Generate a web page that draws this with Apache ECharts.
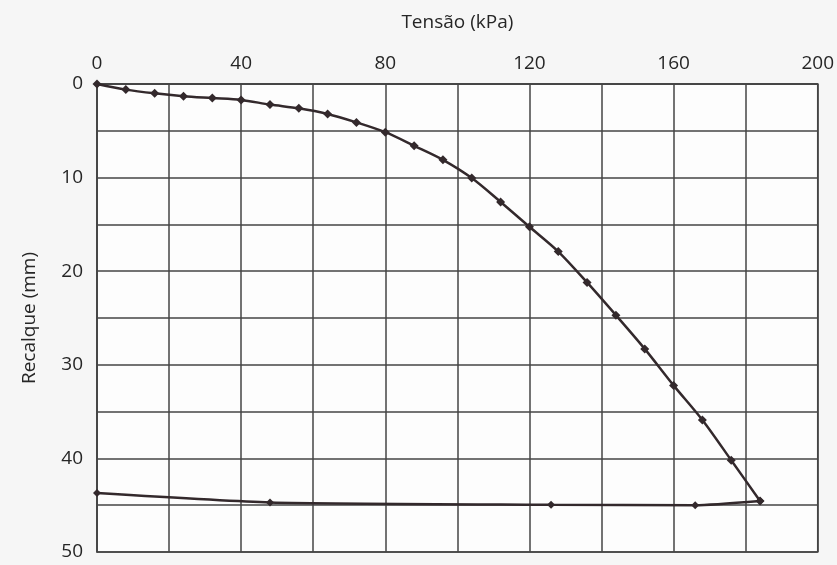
<!DOCTYPE html>
<html>
<head>
<meta charset="utf-8">
<script src="https://cdn.jsdelivr.net/npm/echarts@6/dist/echarts.min.js"></script>
<style>
  html, body { margin: 0; padding: 0; background: #f6f6f6; }
  #chart { width: 837px; height: 565px; }
</style>
</head>
<body>
<div id="chart"></div>
<script>
// Plate load test: applied stress vs settlement (loading and unloading)
const loadStress = [0, 8, 16, 24, 32, 40, 48, 56, 64, 72, 80, 88, 96, 104, 112, 120, 128, 136, 144, 152, 160, 168, 176, 184];
const loadSettlement = [0, 0.6, 1.0, 1.3, 1.5, 1.7, 2.2, 2.6, 3.2, 4.1, 5.15, 6.6, 8.1, 10.05, 12.6, 15.25, 17.9, 21.2, 24.7, 28.3, 32.2, 35.9, 40.2, 44.55];

const unloadStress = [184, 166, 126, 48, 0];
const unloadSettlement = [44.55, 45.0, 44.95, 44.7, 43.7];

const xTicks = [0, 40, 80, 120, 160, 200];
const yTicks = [0, 10, 20, 30, 40, 50];

const pairs = (xs, ys) => xs.map((x, i) => [x, ys[i]]);

const ink = '#33292c';
const gridInk = '#444444';
const textInk = '#262626';
const font = '"Open Sans", "Noto Sans", sans-serif';

const chart = echarts.init(document.getElementById('chart'), null, { renderer: 'canvas' });

chart.setOption({
  backgroundColor: '#f6f6f6',
  animation: false,
  grid: {
    left: 97, right: 17, top: 84, bottom: 13,
    show: true, backgroundColor: '#fdfdfd', borderColor: gridInk, borderWidth: 1.5
  },
  xAxis: {
    type: 'value', position: 'top', min: 0, max: 200, interval: 20,
    name: 'Tensão (kPa)', nameLocation: 'middle', nameGap: 52,
    nameTextStyle: { fontFamily: font, fontSize: 19, color: textInk },
    axisLine: { show: true, lineStyle: { color: gridInk, width: 1.5 } },
    axisTick: { show: false },
    axisLabel: {
      margin: 11, fontFamily: font, fontSize: 19, color: textInk,
      formatter: v => (xTicks.includes(v) ? String(v) : '')
    },
    splitLine: { show: true, lineStyle: { color: gridInk, width: 1.5 } }
  },
  yAxis: {
    type: 'value', inverse: true, min: 0, max: 50, interval: 5,
    name: 'Recalque (mm)', nameLocation: 'middle', nameGap: 58,
    nameTextStyle: { fontFamily: font, fontSize: 19, color: textInk },
    axisLine: { show: true, lineStyle: { color: gridInk, width: 1.5 } },
    axisTick: { show: false },
    axisLabel: {
      margin: 14, fontFamily: font, fontSize: 19, color: textInk,
      formatter: v => (yTicks.includes(v) ? String(v) : '')
    },
    splitLine: { show: true, lineStyle: { color: gridInk, width: 1.5 } }
  },
  series: [
    {
      name: 'Carregamento', type: 'line',
      data: pairs(loadStress, loadSettlement),
      smooth: 0.3,
      symbol: 'diamond', symbolSize: 9,
      lineStyle: { color: ink, width: 2.5 },
      itemStyle: { color: ink }
    },
    {
      name: 'Descarregamento', type: 'line',
      data: pairs(unloadStress, unloadSettlement),
      smooth: 0.2,
      symbol: 'diamond', symbolSize: 8,
      lineStyle: { color: ink, width: 2.5 },
      itemStyle: { color: ink }
    }
  ]
});
</script>
</body>
</html>
